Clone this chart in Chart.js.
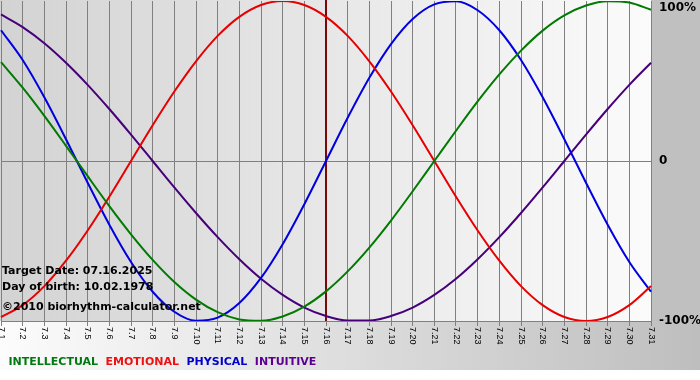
<!DOCTYPE html>
<html>
<head>
<meta charset="utf-8">
<script src="https://cdn.jsdelivr.net/npm/chart.js@4.4.0/dist/chart.umd.min.js"></script>
<style>
  html, body { margin: 0; padding: 0; background: #fff; }
</style>
</head>
<body>
<canvas id="myChart" width="700" height="380"></canvas>
<script>
var days = ['7.1','7.2','7.3','7.4','7.5','7.6','7.7','7.8','7.9','7.10','7.11','7.12','7.13','7.14','7.15','7.16',
            '7.17','7.18','7.19','7.20','7.21','7.22','7.23','7.24','7.25','7.26','7.27','7.28','7.29','7.30','7.31'];

// percent values per day
var intellectual = [61.8, 45.8, 28.2, 9.5, -9.5, -28.2, -45.8, -61.8, -75.6, -86.6, -94.5, -99.0, -99.9, -97.2, -91.0, -81.5,
                    -69.0, -54.1, -37.2, -18.9, 0, 18.9, 37.2, 54.1, 69.0, 81.5, 91.0, 97.2, 99.9, 99.0, 94.5];
var emotional = [-97.5, -90.1, -78.2, -62.3, -43.4, -22.3, 0, 22.3, 43.4, 62.3, 78.2, 90.1, 97.5, 100, 97.5, 90.1,
                 78.2, 62.3, 43.4, 22.3, 0, -22.3, -43.4, -62.3, -78.2, -90.1, -97.5, -100, -97.5, -90.1, -78.2];
var physical = [81.7, 63.1, 39.8, 13.6, -13.6, -39.8, -63.1, -81.7, -94.2, -99.8, -97.9, -88.8, -73.1, -52.0, -27.0, 0,
                27.0, 52.0, 73.1, 88.8, 97.9, 99.8, 94.2, 81.7, 63.1, 39.8, 13.6, -13.6, -39.8, -63.1, -81.7];
var intuitive = [91.6, 83.7, 73.6, 61.4, 47.6, 32.5, 16.5, 0, -16.5, -32.5, -47.6, -61.4, -73.6, -83.7, -91.6, -96.9,
                 -99.7, -99.7, -96.9, -91.6, -83.7, -73.6, -61.4, -47.6, -32.5, -16.5, 0, 16.5, 32.5, 47.6, 61.4];

var yTicks = [100, 0, -100];
var yTickLabels = ['100%', '0', '-100%'];
var targetDay = '7.16';
var infoLines = ['Target Date: 07.16.2025', 'Day of birth: 10.02.1978', '\u00A92010 biorhythm-calculator.net'];

Chart.defaults.font.family = '"DejaVu Sans", Verdana, sans-serif';

var decor = {
  id: 'decor',
  beforeDraw: function(chart) {
    var ctx = chart.ctx, a = chart.chartArea;
    ctx.save();
    ctx.fillStyle = '#ffffff';
    ctx.fillRect(0, 0, chart.width, chart.height);
    var g = ctx.createLinearGradient(0, 0, chart.width, 0);
    g.addColorStop(0, '#fcfcfc');
    g.addColorStop(1, '#bebebe');
    ctx.fillStyle = g;
    ctx.fillRect(0, 0, chart.width, 370);
    ctx.fillStyle = '#c0c0c0';
    ctx.fillRect(a.right, 0, chart.width - a.right, a.bottom);
    var g2 = ctx.createLinearGradient(0, 0, a.right, 0);
    g2.addColorStop(0, '#d3d3d3');
    g2.addColorStop(1, '#fbfbfb');
    ctx.fillStyle = g2;
    ctx.fillRect(0, 0, a.right, a.bottom);
    ctx.restore();
  },
  beforeDatasetsDraw: function(chart) {
    var ctx = chart.ctx, a = chart.chartArea;
    var x = chart.scales.x.getPixelForValue(days.indexOf(targetDay));
    ctx.save();
    ctx.strokeStyle = '#7a0a0a';
    ctx.lineWidth = 2;
    ctx.beginPath();
    ctx.moveTo(x, a.top - 1);
    ctx.lineTo(x, a.bottom);
    ctx.stroke();
    ctx.restore();
  },
  afterDraw: function(chart) {
    var ctx = chart.ctx, a = chart.chartArea;
    var xs = chart.scales.x, ys = chart.scales.y;
    ctx.save();
    // x labels, turned clockwise
    ctx.fillStyle = '#000';
    ctx.font = '9px "Liberation Sans"';
    ctx.textAlign = 'left';
    ctx.textBaseline = 'middle';
    days.forEach(function(d, i) {
      ctx.save();
      ctx.translate(xs.getPixelForValue(i), a.bottom + 6);
      ctx.rotate(Math.PI / 2);
      ctx.fillText(d, 0, 0);
      ctx.restore();
    });
    // y labels
    ctx.font = 'bold 12px "DejaVu Sans"';
    yTicks.forEach(function(v, i) {
      var y = Math.max(ys.getPixelForValue(v), a.top + 7);
      ctx.fillText(yTickLabels[i], a.right + 8, y);
    });
    // info text
    ctx.font = 'bold 11px "DejaVu Sans"';
    ctx.fillText(infoLines[0], 2, a.bottom - 50);
    ctx.fillText(infoLines[1], 2, a.bottom - 34);
    ctx.fillText(infoLines[2], 2, a.bottom - 14);
    ctx.restore();
  }
};

var ctx = document.getElementById('myChart');

var myChart = new Chart(ctx, {
  type: 'line',
  data: {
    labels: days,
    datasets: [
      { label: 'INTELLECTUAL', data: intellectual, borderColor: '#007a00', legendColor: '#007a10' },
      { label: 'EMOTIONAL', data: emotional, borderColor: '#e60000', legendColor: '#ee1111' },
      { label: 'PHYSICAL', data: physical, borderColor: '#0000e0', legendColor: '#0000cc' },
      { label: 'INTUITIVE', data: intuitive, borderColor: '#45007a', legendColor: '#5a0090' }
    ]
  },
  options: {
    responsive: false,
    animation: false,
    events: [],
    elements: {
      line: { borderWidth: 2, cubicInterpolationMode: 'monotone', fill: false },
      point: { radius: 0 }
    },
    layout: { padding: { left: 1, top: 1, right: 0, bottom: 2 } },
    scales: {
      x: {
        offset: false,
        ticks: { display: false },
        grid: { color: '#808080', lineWidth: 1, drawTicks: true, tickLength: 5 },
        border: { display: false },
        afterFit: function(s) { s.height = 34; }
      },
      y: {
        position: 'right',
        min: -100,
        max: 100,
        ticks: { display: false, stepSize: 100 },
        grid: {
          drawTicks: false,
          color: function(c) { return c.tick && c.tick.value === 100 ? 'rgba(0,0,0,0)' : '#808080'; }
        },
        border: { display: false },
        afterFit: function(s) { s.width = 49; }
      }
    },
    plugins: {
      tooltip: { enabled: false },
      legend: {
        position: 'bottom',
        align: 'start',
        labels: {
          boxWidth: 0,
          boxHeight: 0,
          padding: 2,
          font: { size: 11, weight: 'bold' },
          generateLabels: function(chart) {
            return chart.data.datasets.map(function(ds, i) {
              return {
                text: ds.label,
                fontColor: ds.legendColor,
                fillStyle: 'rgba(0,0,0,0)',
                strokeStyle: 'rgba(0,0,0,0)',
                lineWidth: 0,
                hidden: false,
                datasetIndex: i
              };
            });
          }
        }
      }
    }
  },
  plugins: [decor]
});
</script>
</body>
</html>
